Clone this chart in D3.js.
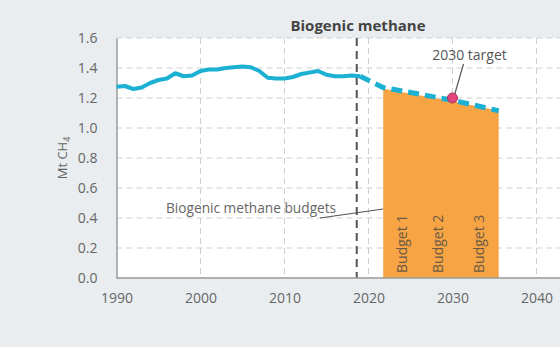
<!DOCTYPE html>
<html>
<head>
<meta charset="utf-8">
<script src="https://cdn.jsdelivr.net/npm/d3@7"></script>
<style>
  body { margin: 0; background: #e9edf0; }
  svg { display: block; font-family: "Open Sans", sans-serif; }
</style>
</head>
<body>
<svg id="chart" width="560" height="347"></svg>
<script>
// Historical biogenic methane emissions (Mt CH4), 1990-2019
const years = d3.range(1990, 2020)
const emissions = [1.275, 1.28, 1.26, 1.27, 1.30, 1.32, 1.33, 1.365, 1.345, 1.35,
                   1.38, 1.39, 1.39, 1.40, 1.405, 1.41, 1.405, 1.38, 1.335, 1.33,
                   1.33, 1.34, 1.36, 1.37, 1.38, 1.355, 1.345, 1.345, 1.35, 1.345]

// Projected pathway (dashed) and the budget block beneath it
const pathYears = [2019, 2021.75, 2030, 2035.5]
const pathValues = [1.345, 1.27, 1.185, 1.115]
const budgetYears = [2021.75, 2030, 2035.5]
const budgetValues = [1.262, 1.178, 1.115]

// Budget periods, label placed at the middle of each
const budgetNames = ["Budget 1", "Budget 2", "Budget 3"]
const budgetMid = [2024, 2028.3, 2033.2]

const target = {year: 2030, value: 1.2}
const latestYear = 2018.6

const xTicks = [1990, 2000, 2010, 2020, 2030, 2040]
const yTicks = [0, 0.2, 0.4, 0.6, 0.8, 1.0, 1.2, 1.4, 1.6]

const svg = d3.select("#chart")

const x = d3.scaleLinear().domain([1990, 2040]).range([116.5, 536.5])
const y = d3.scaleLinear().domain([0, 1.6]).range([278, 38])

// white plotting area
svg.append("rect")
  .attr("x", x(1990)).attr("y", y(1.6))
  .attr("width", 560 - x(1990) + 10).attr("height", y(0) - y(1.6))
  .attr("fill", "#fff")

// gridlines
const grid = svg.append("g").attr("stroke", "#cfcfcf").attr("stroke-dasharray", "6,4").attr("stroke-width", 1)
grid.selectAll(".hg").data(yTicks.filter(d => d > 0)).enter().append("line")
  .attr("x1", x(1990)).attr("x2", 560)
  .attr("y1", d => y(d)).attr("y2", d => y(d))
grid.selectAll(".vg").data(xTicks.filter(d => d > 1990)).enter().append("line")
  .attr("x1", d => x(d)).attr("x2", d => x(d))
  .attr("y1", y(1.6)).attr("y2", y(0))

// budget block
const area = d3.area()
  .x((d, i) => x(budgetYears[i]))
  .y0(y(0))
  .y1(d => y(d))
svg.append("path")
  .datum(budgetValues)
  .attr("d", area)
  .attr("fill", "#f7a444")

// budget labels
svg.selectAll(".blab").data(budgetNames).enter().append("text")
  .attr("transform", (d, i) => "translate(" + (x(budgetMid[i]) + 5) + "," + (y(0) - 5) + ") rotate(-90)")
  .attr("font-size", 14)
  .attr("fill", "#6b5a45")
  .text(d => d)

// latest-year marker
svg.append("line")
  .attr("x1", x(latestYear)).attr("x2", x(latestYear))
  .attr("y1", y(1.6)).attr("y2", y(0))
  .attr("stroke", "#555").attr("stroke-width", 2).attr("stroke-dasharray", "8,5")

// axes
const xAxis = d3.axisBottom(x).tickValues(xTicks).tickFormat(d3.format("d")).tickSize(0).tickPadding(15)
const gx = svg.append("g").attr("transform", "translate(0," + y(0) + ")").call(xAxis)
gx.select(".domain").attr("stroke", "#999").attr("stroke-width", 1.5).attr("d", "M" + x(1990) + ",0H560")
gx.selectAll("text").attr("font-size", 14).attr("fill", "#666").attr("font-family", "Open Sans")

const yAxis = d3.axisLeft(y).tickValues(yTicks).tickFormat(d3.format(".1f")).tickSize(0).tickPadding(19)
const gy = svg.append("g").attr("transform", "translate(" + x(1990) + ",0)").call(yAxis)
gy.select(".domain").attr("stroke", "#999").attr("stroke-width", 1.5)
gy.selectAll("text").attr("font-size", 14).attr("fill", "#666").attr("font-family", "Open Sans")

// historical line
const line = d3.line()
  .x((d, i) => x(years[i]))
  .y(d => y(d))
svg.append("path")
  .datum(emissions)
  .attr("d", line)
  .attr("fill", "none").attr("stroke", "#1cb0d3").attr("stroke-width", 4).attr("stroke-linejoin", "round")

// pathway
const pathLine = d3.line()
  .x((d, i) => x(pathYears[i]))
  .y(d => y(d))
svg.append("path")
  .datum(pathValues)
  .attr("d", pathLine)
  .attr("fill", "none").attr("stroke", "#1cb0d3").attr("stroke-width", 5)
  .attr("stroke-dasharray", "11,6")

// 2030 target
svg.append("line")
  .attr("x1", x(target.year) + 11).attr("y1", y(target.value) - 34)
  .attr("x2", x(target.year) + 2).attr("y2", y(target.value) - 3)
  .attr("stroke", "#555").attr("stroke-width", 1.2)
svg.append("circle")
  .attr("cx", x(target.year)).attr("cy", y(target.value)).attr("r", 5)
  .attr("fill", "#e2457c").attr("stroke", "#a8325a").attr("stroke-width", 1)
svg.append("text")
  .attr("x", x(target.year) + 17).attr("y", 60)
  .attr("text-anchor", "middle").attr("font-size", 14).attr("fill", "#555")
  .text("2030 target")

// budgets callout
svg.append("text")
  .attr("x", 166).attr("y", 213)
  .attr("font-size", 13.7).attr("fill", "#666")
  .text("Biogenic methane budgets")
svg.append("line")
  .attr("x1", 320).attr("y1", 218).attr("x2", x(budgetYears[0])).attr("y2", 209)
  .attr("stroke", "#555").attr("stroke-width", 1.2)

// title
svg.append("text")
  .attr("x", 358).attr("y", 31)
  .attr("text-anchor", "middle").attr("font-size", 15).attr("font-weight", "bold").attr("fill", "#444")
  .text("Biogenic methane")

// y-axis title
const yt = svg.append("text")
  .attr("transform", "translate(67,158) rotate(-90)")
  .attr("text-anchor", "middle").attr("font-size", 13).attr("fill", "#666")
yt.append("tspan").text("Mt CH")
yt.append("tspan").attr("font-size", 9).attr("dy", 3).text("4")
</script>
</body>
</html>
